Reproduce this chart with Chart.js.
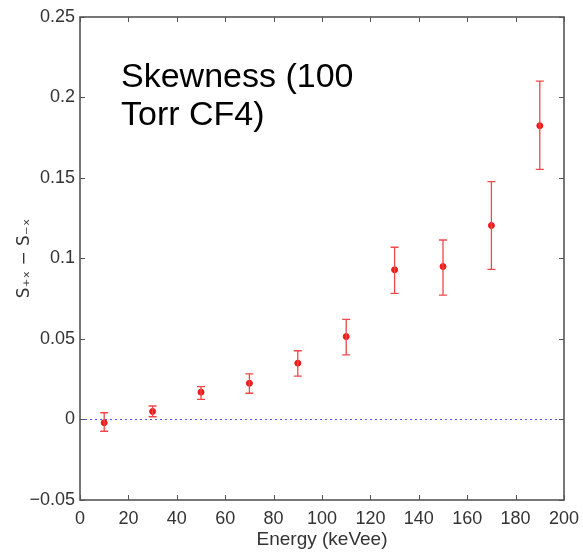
<!DOCTYPE html>
<html lang="en">
<head>
    <meta charset="UTF-8">
    <title>Skewness (100 Torr CF4)</title>
    <script src="https://cdn.jsdelivr.net/npm/chart.js"></script>
    <style>
        body { margin: 0; background: #fff; }
        #wrap { width: 583px; height: 555px; }
    </style>
</head>
<body>
    <div id="wrap"><canvas id="skew"></canvas></div>
    <script>
        // energy bins (keVee)
        const energy = [10, 30, 50, 70, 90, 110, 130, 150, 170, 190];
        // S+x - S-x and the error bar ends
        const skew  = [-0.002, 0.005, 0.017, 0.0225, 0.035, 0.0515, 0.093, 0.095, 0.1205, 0.1825];
        const lower = [-0.0073, 0.0017, 0.0125, 0.0163, 0.027, 0.0402, 0.0784, 0.0773, 0.0933, 0.1554];
        const upper = [0.0042, 0.0084, 0.0204, 0.0283, 0.0427, 0.0622, 0.107, 0.1115, 0.1477, 0.2102];

        const xTicks = [0, 20, 40, 60, 80, 100, 120, 140, 160, 180, 200];
        const yTicks = [-0.05, 0, 0.05, 0.1, 0.15, 0.2, 0.25];
        const zeroLine = [{x: 0, y: 0}, {x: 200, y: 0}];

        const axisColor = '#555';
        const fam = 'Liberation Sans, Arial, sans-serif';
        const labelFont = {family: fam, size: 18};

        const fmtY = v => {
            if (Math.abs(v) < 1e-9) return '0';
            const s = String(Math.round(v * 100) / 100);
            return s.replace('-', '\u2212');
        };

        // error bars, inward ticks, frame and the text inside the plot
        const extras = {
            id: 'extras',
            afterDatasetsDraw(chart) {
                const {ctx, chartArea: a, scales: {x, y}} = chart;
                ctx.save();
                ctx.strokeStyle = '#f04848';
                ctx.lineWidth = 1.3;
                energy.forEach((e, i) => {
                    const px = x.getPixelForValue(e);
                    const t = y.getPixelForValue(upper[i]);
                    const b = y.getPixelForValue(lower[i]);
                    ctx.beginPath();
                    ctx.moveTo(px, t); ctx.lineTo(px, b);
                    ctx.moveTo(px - 4, t); ctx.lineTo(px + 4, t);
                    ctx.moveTo(px - 4, b); ctx.lineTo(px + 4, b);
                    ctx.stroke();
                });

                ctx.strokeStyle = axisColor;
                ctx.lineWidth = 1;
                const tl = 5;
                xTicks.forEach(v => {
                    const px = Math.round(x.getPixelForValue(v)) + 0.5;
                    ctx.beginPath();
                    ctx.moveTo(px, a.bottom); ctx.lineTo(px, a.bottom - tl);
                    ctx.moveTo(px, a.top); ctx.lineTo(px, a.top + tl);
                    ctx.stroke();
                });
                yTicks.forEach(v => {
                    const py = Math.round(y.getPixelForValue(v)) + 0.5;
                    ctx.beginPath();
                    ctx.moveTo(a.left, py); ctx.lineTo(a.left + tl, py);
                    ctx.moveTo(a.right, py); ctx.lineTo(a.right - tl, py);
                    ctx.stroke();
                });
                ctx.lineWidth = 1.6;
                ctx.strokeRect(a.left, a.top, a.right - a.left, a.bottom - a.top);

                ctx.fillStyle = '#000';
                ctx.font = '34px ' + fam;
                ctx.textBaseline = 'alphabetic';
                ctx.fillText('Skewness (100', a.left + 41, a.top + 70);
                ctx.fillText('Torr CF4)', a.left + 41, a.top + 108);
                ctx.restore();
            }
        };

        new Chart(document.getElementById('skew'), {
            type: 'scatter',
            data: {
                datasets: [
                    {
                        data: zeroLine,
                        type: 'line',
                        borderColor: '#5050ff',
                        borderWidth: 1.2,
                        borderDash: [2, 3],
                        pointRadius: 0
                    },
                    {
                        data: energy.map((e, i) => ({x: e, y: skew[i]})),
                        backgroundColor: '#ee1a1a',
                        borderColor: '#ee1a1a',
                        pointRadius: 3
                    }
                ]
            },
            options: {
                responsive: true,
                maintainAspectRatio: false,
                animation: false,
                layout: {padding: {top: 17, right: 19, left: 10, bottom: 0}},
                plugins: {legend: {display: false}, tooltip: {enabled: false}},
                scales: {
                    x: {
                        type: 'linear', min: 0, max: 200,
                        afterBuildTicks: s => { s.ticks = xTicks.map(v => ({value: v})); },
                        afterFit: s => { s.height = 55; s.paddingLeft = 0; s.paddingRight = 0; },
                        grid: {display: false, drawTicks: false},
                        border: {display: false},
                        ticks: {color: '#333', font: labelFont, padding: 8},
                        title: {display: true, text: 'Energy (keVee)', color: '#333',
                                font: {family: fam, size: 19}, padding: {top: 2, bottom: 4}}
                    },
                    y: {
                        min: -0.05, max: 0.25,
                        afterBuildTicks: s => { s.ticks = yTicks.map(v => ({value: v})); },
                        afterFit: s => { s.width = 70; s.paddingTop = 0; s.paddingBottom = 0; },
                        grid: {display: false, drawTicks: false},
                        border: {display: false},
                        ticks: {color: '#333', font: labelFont, padding: 5, callback: v => fmtY(v)},
                        title: {display: true, text: 'S\u208A\u2093 \u2212 S\u208B\u2093', color: '#333',
                                font: {family: 'DejaVu Sans, sans-serif', size: 17}, padding: {bottom: 0}}
                    }
                }
            },
            plugins: [extras]
        });
    </script>
</body>
</html>
